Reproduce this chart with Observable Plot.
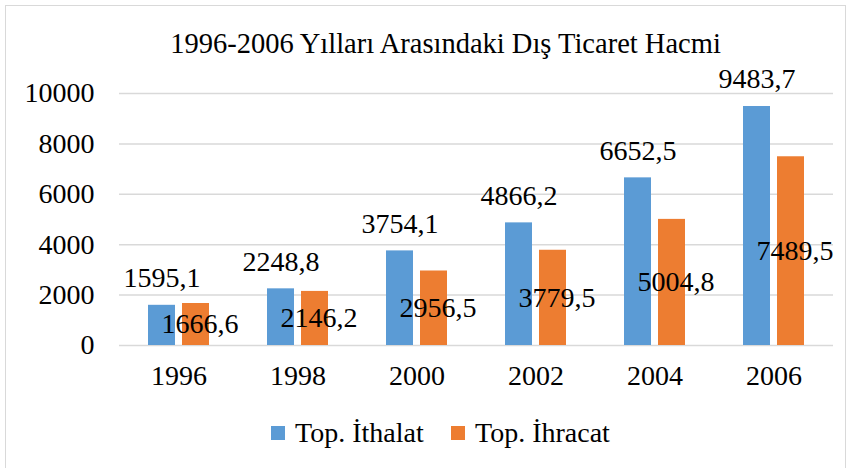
<!DOCTYPE html>
<html><head><meta charset="utf-8">
<script src="https://cdn.jsdelivr.net/npm/d3@7"></script>
<script src="https://cdn.jsdelivr.net/npm/@observablehq/plot@0.6"></script>
<style>
body{margin:0;background:#fff;}
#wrap{position:relative;width:851px;height:468px;overflow:hidden;font-family:"Liberation Serif","Times New Roman",serif;color:#000;background:#fff;}
#frame{position:absolute;left:5px;top:5px;width:841px;height:470px;border:1.5px solid #d9d9d9;box-sizing:border-box;}
#title{position:absolute;left:20px;top:27px;width:851px;text-align:center;font-size:28.5px;line-height:34px;white-space:nowrap;}
#chart{position:absolute;left:0;top:70px;}
#chart svg text{font-family:"Liberation Serif","Times New Roman",serif;}
#legend{position:absolute;top:416px;left:0;width:851px;height:34px;}
.item{position:absolute;top:0;display:flex;align-items:center;height:34px;font-size:28px;white-space:nowrap;}
.sw{width:14px;height:14px;margin-right:10px;}
</style>
</head><body>
<div id="wrap">
  <div id="frame"></div>
  <div id="title"></div>
  <div id="chart"></div>
  <div id="legend"></div>
</div>
<script>
const titleText = "1996-2006 Yılları Arasındaki Dış Ticaret Hacmi";
const years = ["1996", "1998", "2000", "2002", "2004", "2006"];
const seriesNames = ["Top. İthalat", "Top. İhracat"];
const ithalat = [1595.1, 2248.8, 3754.1, 4866.2, 6652.5, 9483.7];
const ihracat = [1666.6, 2146.2, 2956.5, 3779.5, 5004.8, 7489.5];
const colors = ["#5B9BD5", "#ED7D31"];
const yTicks = [0, 2000, 4000, 6000, 8000, 10000];

document.getElementById("title").textContent = titleText;

const data = [];
years.forEach((y, i) => {
  data.push({year: y, series: seriesNames[0], value: ithalat[i]});
  data.push({year: y, series: seriesNames[1], value: ihracat[i]});
});
const fmt = d => d.value.toFixed(1).replace(".", ",");
const imp = data.filter(d => d.series === seriesNames[0]);
const exp = data.filter(d => d.series === seriesNames[1]);
const FONT = "Liberation Serif";

const chart = Plot.plot({
  width: 851,
  height: 335,
  marginLeft: 118,
  marginRight: 18,
  marginTop: 23,
  marginBottom: 60,
  style: {fontFamily: FONT, fontSize: "28px", color: "#000", background: "transparent", overflow: "visible"},
  fx: {domain: years, padding: 0, label: null, axis: null},
  x: {domain: seriesNames, paddingInner: 0.206, paddingOuter: 0.853, axis: null},
  y: {domain: [0, 10000], ticks: yTicks, label: null, axis: null},
  color: {domain: seriesNames, range: colors},
  marks: [
    Plot.gridY(yTicks, {stroke: "#d9d9d9", strokeOpacity: 1, strokeWidth: 1.5}),
    Plot.barY(data, {fx: "year", x: "series", y: "value", fill: "series"}),
    Plot.axisY(yTicks, {anchor: "left", tickSize: 0, tickPadding: 25, fontSize: 28, fontFamily: FONT, label: null, tickFormat: d => String(d)}),
    Plot.axisFx({anchor: "bottom", tickSize: 0, tickPadding: 20, fontSize: 28, fontFamily: FONT, label: null}),
    Plot.text(imp, {fx: "year", x: "series", y: "value", text: fmt, dy: -27, fontSize: 28, fontFamily: FONT, fill: "#000"}),
    Plot.text(exp, {fx: "year", x: "series", y: d => d.value / 2, text: fmt, dx: 4, fontSize: 28, fontFamily: FONT, fill: "#000"})
  ]
});
document.getElementById("chart").appendChild(chart);

const legend = document.getElementById("legend");
const legendLeft = [271, 451];
seriesNames.forEach((s, i) => {
  const item = document.createElement("div");
  item.className = "item";
  item.style.left = legendLeft[i] + "px";
  const sw = document.createElement("div");
  sw.className = "sw";
  sw.style.background = colors[i];
  const t = document.createElement("span");
  t.textContent = s;
  item.appendChild(sw);
  item.appendChild(t);
  legend.appendChild(item);
});
</script>
</body></html>
